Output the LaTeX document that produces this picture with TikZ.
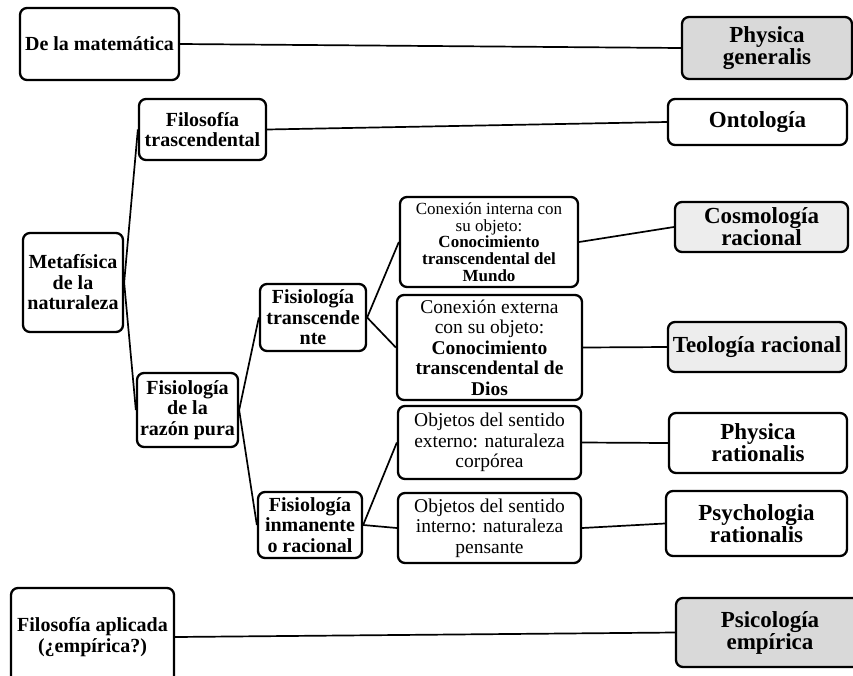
\documentclass[tikz,border=0pt]{standalone}
\usepackage{fontspec}
\setmainfont{Liberation Serif}
\tikzset{
	box/.style={draw, line width=2.3pt, rounded corners=7pt, align=center, inner sep=1pt, fill=white},
	lab/.style={font=\fontsize{20}{20.5}\selectfont\bfseries},
	big/.style={font=\fontsize{23}{22}\selectfont\bfseries},
	note/.style={font=\fontsize{19.5}{20.5}\selectfont},
	small/.style={font=\fontsize{17}{16.8}\selectfont},
	dark/.style={fill=black!15},
	pale/.style={fill=black!7},
	conn/.style={line width=1.7pt}
}
\begin{document}
\begin{tikzpicture}[x=1pt, y=-1pt]
	\clip (0,0) rectangle (853,675);
	\node (matematica) at (99.5,44) [box, lab, minimum width=159pt, minimum height=72pt] {De la matemática};
	\node (physgen) at (767,48) [box, big, dark, minimum width=170pt, minimum height=62pt] {Physica\\generalis};
	\node (filtrasc) at (202.5,129.5) [box, lab, minimum width=127pt, minimum height=61pt] {Filosofía\\trascendental};
	\node (ontologia) at (757.5,122) [box, big, minimum width=179pt, minimum height=46pt] {Ontología};
	\node (metafisica) at (73,282.5) [box, lab, minimum width=100pt, minimum height=99pt] {Metafísica\\de la\\naturaleza};
		\node (razonpura) at (187.5,410) [box, lab, minimum width=101pt, minimum height=74pt] {Fisiología\\de la\\razón pura};
			\node (fistrans) at (313,317.5) [box, lab, minimum width=106pt, minimum height=67pt] {Fisiología\\transcende\\nte};
				\node (conint) at (489,242) [box, small, minimum width=178pt, minimum height=90pt] {Conexión interna con\\su objeto:\\\textbf{Conocimiento}\\\textbf{transcendental del}\\\textbf{Mundo}};
				\node (conext) at (489.5,347.5) [box, note, minimum width=185pt, minimum height=105pt] {Conexión externa\\con su objeto:\\\textbf{Conocimiento}\\\textbf{transcendental de}\\\textbf{Dios}};
			\node (inmanente) at (310,525) [box, lab, minimum width=104pt, minimum height=66pt] {Fisiología\\inmanente\\o racional};
				\node (objext) at (489.5,442.5) [box, note, minimum width=183pt, minimum height=73pt] {Objetos del sentido\\externo: naturaleza\\corpórea};
				\node (objint) at (489.5,528) [box, note, minimum width=183pt, minimum height=70pt] {Objetos del sentido\\interno: naturaleza\\pensante};
	\node (cosmo) at (761.5,227) [box, big, pale, minimum width=173pt, minimum height=50pt] {Cosmología\\racional};
	\node (teologia) at (757,347) [box, big, pale, minimum width=178pt, minimum height=50pt] {Teología racional};
	\node (physrat) at (758,443) [box, big, minimum width=178pt, minimum height=60pt] {Physica\\rationalis};
	\node (psyrat) at (756.5,523.5) [box, big, minimum width=181pt, minimum height=65pt] {Psychologia\\rationalis};
	\node (filapl) at (92.5,637) [box, lab, minimum width=163pt, minimum height=98pt] {Filosofía aplicada\\(¿empírica?)};
	\node (psiemp) at (770,632.5) [box, big, dark, minimum width=188pt, minimum height=69pt] {Psicología\\empírica};
	\draw[conn] (matematica.east) to (physgen.west)
		(filtrasc.east) to (ontologia.west)
		(metafisica.east) to (filtrasc.west)
		(metafisica.east) to (razonpura.west)
		(razonpura.east) to (fistrans.west)
		(razonpura.east) to (inmanente.west)
		(fistrans.east) to (conint.west)
		(fistrans.east) to (conext.west)
		(inmanente.east) to (objext.west)
		(inmanente.east) to (objint.west)
		(conint.east) to (cosmo.west)
		(conext.east) to (teologia.west)
		(objext.east) to (physrat.west)
		(objint.east) to (psyrat.west)
		(filapl.east) to (psiemp.west);
\end{tikzpicture}
\end{document}
